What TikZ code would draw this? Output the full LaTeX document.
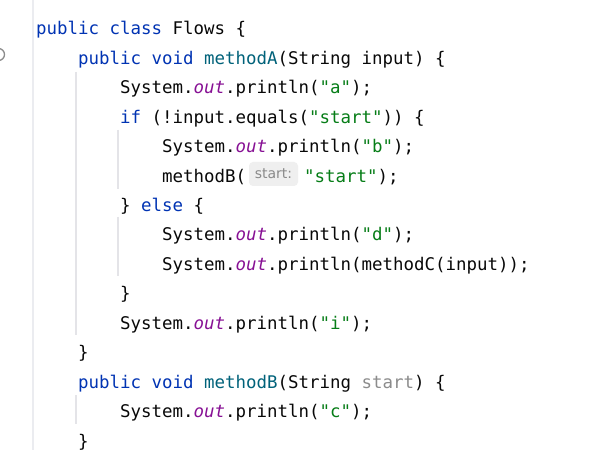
\documentclass[tikz,border=0pt]{standalone}
\usepackage{fontspec}
\newfontfamily\codefont[ItalicFont={DejaVu Sans Mono Oblique}]{DejaVu Sans Mono}
\newfontfamily\hintfont{DejaVu Sans}
\definecolor{kw}{HTML}{0033B3}
\definecolor{decl}{HTML}{00627A}
\definecolor{fld}{HTML}{871094}
\definecolor{str}{HTML}{067D17}
\definecolor{txt}{HTML}{080808}
\definecolor{unused}{HTML}{8C8C8C}
\definecolor{hintbg}{HTML}{EFEFEF}
\definecolor{hinttxt}{HTML}{8A8A8A}
\definecolor{gutter}{HTML}{EBECF0}
\definecolor{guide}{HTML}{E4E4E8}
\newcommand{\K}[1]{\textcolor{kw}{#1}}
\newcommand{\D}[1]{\textcolor{decl}{#1}}
\newcommand{\F}[1]{\textcolor{fld}{\itshape #1}}
\newcommand{\Q}[1]{\textcolor{str}{#1}}
\newcommand{\U}[1]{\textcolor{unused}{#1}}
\newcommand{\OUT}{System.\F{out}.println}
\begin{document}
\begin{tikzpicture}[x=1bp,y=-1bp,
  codeline/.style={anchor=base west, inner sep=0pt, text=txt,
    font=\codefont\fontsize{17.44bp}{20bp}\selectfont},
  hintbox/.style={fill=hintbg, rounded corners=4bp, inner sep=0pt,
    minimum width=49bp, minimum height=24bp,
    text=hinttxt, font=\hintfont\fontsize{14bp}{16bp}\selectfont},
  gutterline/.style={draw=gutter, line width=1.2bp},
  guideline/.style={draw=guide, line width=1.2bp}]
\useasboundingbox (0,0) rectangle (600,450);
\fill[white] (0,0) rectangle (600,450);
% gutter and indent guides
\draw[gutterline] (33,0) -- (33,450);
\draw[guideline] (76,72) -- (76,335);
\draw[guideline] (76,395) -- (76,424);
\draw[guideline] (118,130) -- (118,189);
\draw[guideline] (118,217) -- (118,276);
% gutter icon (cut off)
\draw[unused, line width=1.3bp] (-1.5,54.5) circle[radius=6];
% code lines
\node[codeline] (l1) at (36,35) {\K{public class} Flows \{};
\node[codeline] (l2) at (78,64.4) {\K{public void} \D{methodA}(String input) \{};
\node[codeline] (l3) at (120,93.9) {\OUT(\Q{"a"});};
\node[codeline] (l4) at (120,123.3) {\K{if} (!input.equals(\Q{"start"})) \{};
\node[codeline] (l5) at (162,152.7) {\OUT(\Q{"b"});};
\node[codeline] (l6a) at (162,182.2) {methodB(};
\node[hintbox] (hint) at (273.5,174) {start:};
\node[codeline] (l6b) at (304,182.2) {\Q{"start"});};
\node[codeline] (l7) at (120,211.6) {\} \K{else} \{};
\node[codeline] (l8) at (162,241.0) {\OUT(\Q{"d"});};
\node[codeline] (l9) at (162,270.4) {\OUT(methodC(input));};
\node[codeline] (l10) at (120,299.9) {\}};
\node[codeline] (l11) at (120,329.3) {\OUT(\Q{"i"});};
\node[codeline] (l12) at (78,358.7) {\}};
\node[codeline] (l13) at (78,388.2) {\K{public void} \D{methodB}(String \U{start}) \{};
\node[codeline] (l14) at (120,417.6) {\OUT(\Q{"c"});};
\node[codeline] (l15) at (78,447.0) {\}};
\end{tikzpicture}
\end{document}
